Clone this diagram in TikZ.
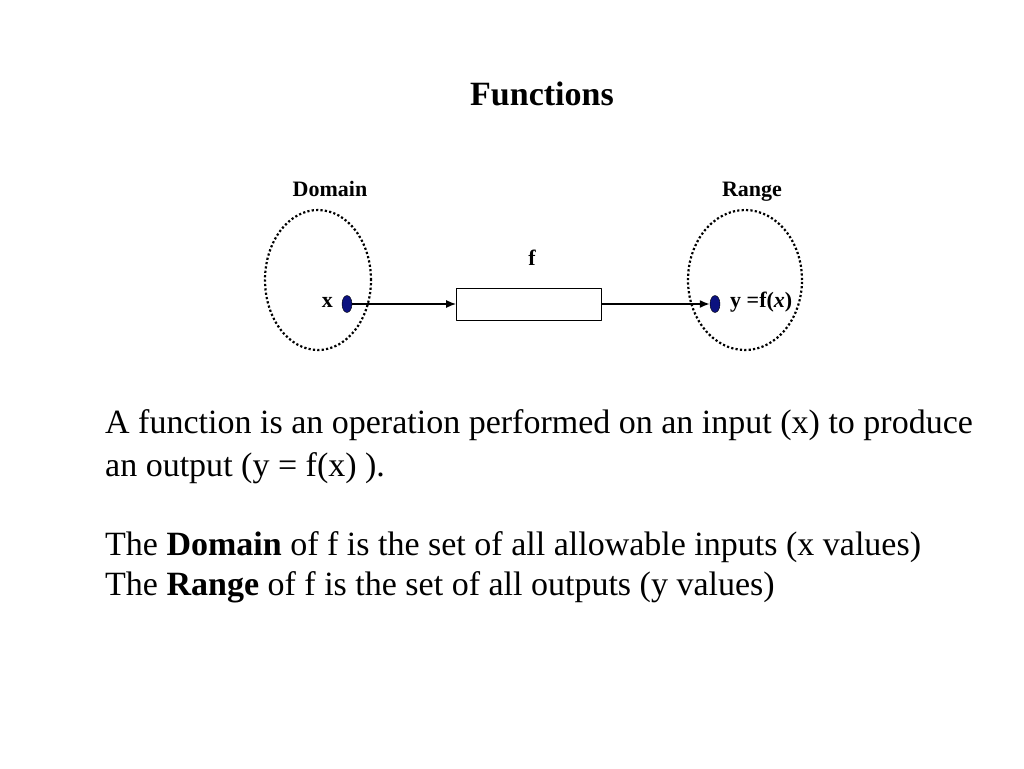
\documentclass[tikz,border=0pt]{standalone}
\usepackage{fontspec}
\setmainfont{Liberation Serif}
\usetikzlibrary{positioning,shapes.geometric,arrows.meta}
\definecolor{dotblue}{RGB}{12,18,128}
\begin{document}
\begin{tikzpicture}[x=1pt,y=-1pt,>={Latex[length=10pt,width=8pt]},line join=round]
	\tikzset{oval style/.style={ellipse,draw,line width=2.2pt,dash pattern=on 2.2pt off 2.2pt,inner sep=0pt},
		elem style/.style={ellipse,draw=black,fill=dotblue,inner sep=0pt,minimum width=10pt,minimum height=17pt},
		lab style/.style={font=\fontsize{22}{26}\selectfont\bfseries,inner sep=0pt},
		body style/.style={anchor=base west,inner sep=0pt,font=\fontsize{34}{40}\selectfont}}
	\useasboundingbox (0,0) rectangle (1024,768);
	\node[font=\fontsize{34}{40}\selectfont\bfseries,anchor=base,inner sep=0pt] (title) at (542,105) {Functions};
	% the two sets
	\node[oval style,minimum width=106pt,minimum height=140pt] (domain) at (318,280) {};
	\node[oval style,minimum width=114pt,minimum height=140pt] (range) at (745,280) {};
	\node[lab style,anchor=base] (domainlab) at (330,196) {Domain};
	\node[lab style,anchor=base] (rangelab) at (752,196) {Range};
	% elements and the map
	\node[elem style] (xin) at (347,304) {};
	\node[elem style] (yout) at (715,304) {};
	\node[draw,semithick,minimum width=145pt,minimum height=32pt] (fbox) at (529,304) {};
	\node[lab style,anchor=base] (flab) at (532,265) {f};
	\node[lab style,anchor=base east] (xlab) at (333,307) {x};
	\node[lab style,anchor=base west] (ylab) at (730,307) {y =f(\textit{x})};
	\draw[->,line width=1.6pt] (xin) -- (fbox);
	\draw[->,line width=1.6pt] (fbox) -- (yout);
	% text below
	\node[body style] (line1) at (105,433) {A function is an operation performed on an input (x) to produce};
	\node[body style] (line2) at (105,476) {an output (y = f(x) ).};
	\node[body style] (line3) at (105,555) {The \textbf{Domain} of f is the set of all allowable inputs (x values)};
	\node[body style] (line4) at (105,595) {The \textbf{Range} of f is the set of all outputs (y values)};
\end{tikzpicture}
\end{document}
